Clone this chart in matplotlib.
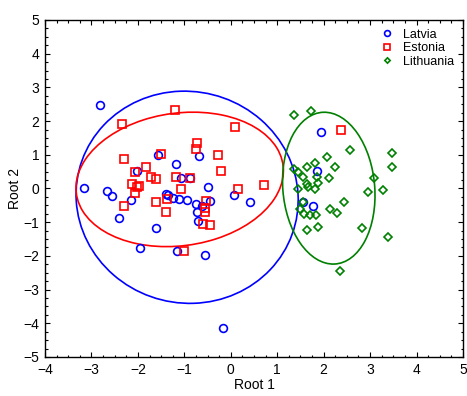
import matplotlib
matplotlib.use("Agg")
import matplotlib.pyplot as plt
from matplotlib.patches import Ellipse
from matplotlib.ticker import MultipleLocator

plt.rcParams['font.family'] = ['Liberation Sans', 'DejaVu Sans']

groups = ["Latvia", "Estonia", "Lithuania"]

latvia_x = [-2.81, -3.15, -2.66, -2.55, -2.14, -2.03, -2.40, -1.57, -1.18, -1.07,
            -1.40, -1.36, -1.25, -1.11, -0.95, -0.74, -0.72, -0.71, -1.60, -1.96,
            -1.16, -0.69, -0.87, -0.50, -0.61, -0.45, -0.56, 0.08, 0.42, 1.95,
            1.85, 1.56, 1.77, -0.17]
latvia_y = [2.48, 0.00, -0.08, -0.23, -0.33, 0.52, -0.87, 0.98, 0.74, 0.30,
            -0.15, -0.19, -0.29, -0.30, -0.33, -0.45, -0.70, -0.97, -1.18, -1.76,
            -1.86, 0.95, 0.30, 0.05, -0.52, -0.37, -1.96, -0.20, -0.41, 1.69,
            0.52, -0.40, -0.52, -4.13]

estonia_x = [-1.21, -2.35, -0.72, -0.75, -1.51, -2.29, -1.83, -2.06, -1.72, -1.62,
             -1.18, -0.87, -2.12, -2.02, -1.98, -2.06, -1.08, -1.62, -1.38, -1.39,
             -2.29, -1.00, 0.09, -0.27, -0.22, 0.16, 0.71, -0.54, -0.55, -0.55,
             -0.59, -0.45, 2.37]
estonia_y = [2.33, 1.91, 1.34, 1.16, 1.01, 0.88, 0.63, 0.48, 0.34, 0.27,
             0.34, 0.30, 0.13, 0.05, 0.08, -0.12, -0.01, -0.40, -0.32, -0.69,
             -0.51, -1.86, 1.83, 0.98, 0.52, -0.02, 0.09, -0.36, -0.57, -0.71,
             -1.05, -1.07, 1.73]

lithuania_x = [1.37, 1.73, 2.56, 3.47, 3.47, 2.07, 1.81, 1.64, 2.25, 1.37,
               1.45, 1.55, 1.86, 2.12, 3.08, 1.64, 1.87, 1.66, 1.81, 1.45,
               3.28, 2.95, 2.44, 1.56, 1.48, 2.14, 2.28, 1.58, 1.71, 1.84,
               2.82, 1.64, 1.87, 3.39, 2.35]
lithuania_y = [2.17, 2.31, 1.13, 1.06, 0.64, 0.93, 0.75, 0.64, 0.64, 0.57,
               0.50, 0.35, 0.35, 0.31, 0.32, 0.14, 0.17, 0.04, -0.01, -0.02,
               -0.04, -0.10, -0.39, -0.40, -0.60, -0.61, -0.72, -0.75, -0.79, -0.79,
               -1.17, -1.24, -1.13, -1.45, -2.46]

# ellipse parameters: centre x, centre y, width, height, angle (data units)
ell_center_x = [-0.94, -1.10, 2.11]
ell_center_y = [-0.26, 0.27, 0.01]
ell_width = [4.78, 4.58, 1.98]
ell_height = [6.30, 3.86, 4.51]
ell_angle = [2.6, 24.2, 3.0]

colors = ["#0000ff", "#ff0000", "#008000"]
markers = ["o", "s", "D"]
msizes = [5.6, 5.6, 3.6]

fig = plt.figure(figsize=(4.67, 3.96), dpi=100)
ax = fig.add_axes([0.0964, 0.0985, 0.8950, 0.8510])

xs = [latvia_x, estonia_x, lithuania_x]
ys = [latvia_y, estonia_y, lithuania_y]
for i, g in enumerate(groups):
    ax.plot(xs[i], ys[i], linestyle="none", marker=markers[i], markersize=msizes[i],
            markerfacecolor="none", markeredgecolor=colors[i], markeredgewidth=1.2,
            label=g)

for i in range(3):
    e = Ellipse((ell_center_x[i], ell_center_y[i]), ell_width[i], ell_height[i],
                angle=ell_angle[i], fill=False, edgecolor=colors[i], linewidth=1.2)
    ax.add_patch(e)

ax.set_xlim(-4, 5)
ax.set_ylim(-5, 5)
ax.xaxis.set_major_locator(MultipleLocator(1))
ax.yaxis.set_major_locator(MultipleLocator(1))
ax.xaxis.set_minor_locator(MultipleLocator(0.25))
ax.yaxis.set_minor_locator(MultipleLocator(0.25))
ax.tick_params(which="both", direction="in", top=True, right=True, labelsize=10,
               colors="black", width=0.8)
ax.tick_params(which="major", length=3.5, pad=4)
ax.tick_params(which="minor", length=1.8)
ax.tick_params(axis="x", labeltop=False)
ax.tick_params(axis="y", labelright=False)
for s in ax.spines.values():
    s.set_linewidth(1.0)
    s.set_color("black")

ax.set_xlabel("Root 1", fontsize=10, labelpad=1)
ax.set_ylabel("Root 2", fontsize=10, labelpad=1)

ax.legend(loc="upper right", frameon=False, fontsize=9, labelspacing=0.12,
          handlelength=1.0, handletextpad=0.8, borderaxespad=0.3, numpoints=1,
          markerscale=0.75)

fig.savefig("out.png", dpi=100)
